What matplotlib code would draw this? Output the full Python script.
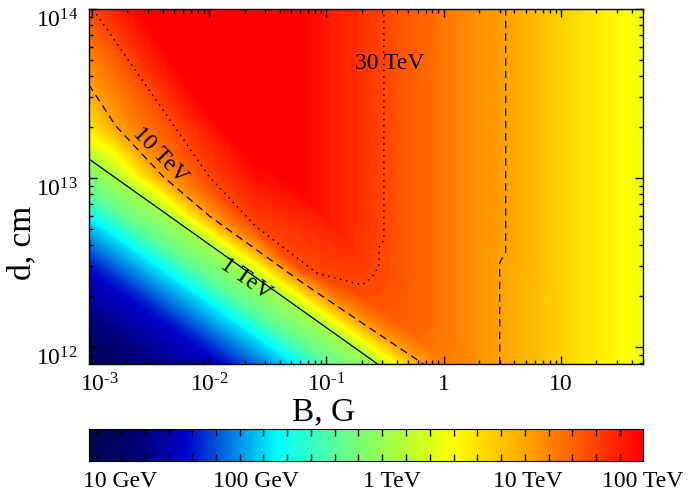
import numpy as np
import matplotlib
matplotlib.use("Agg")
import matplotlib.pyplot as plt
import matplotlib.tri as mtri
from matplotlib.colors import LinearSegmentedColormap, Normalize
from matplotlib.transforms import ScaledTranslation

plt.rcParams['font.family'] = ['Liberation Serif', 'DejaVu Serif']
plt.rcParams['mathtext.fontset'] = 'custom'
plt.rcParams['mathtext.rm'] = 'Liberation Serif'
plt.rcParams['mathtext.it'] = 'Liberation Serif:italic'
plt.rcParams['mathtext.bf'] = 'Liberation Serif:bold'

# points: x = log10(B / G), y = log10(d / cm)
# each set lies on a line of constant log10(E_max / GeV)

# colour bands below 1 TeV
b_e085 = [-3.2, -2.8]
d_e085 = [11.986, 11.789]
b_e150 = [-3.2, -2.8, -2.4, -2.0, -1.6]
d_e150 = [12.556, 12.359, 12.162, 11.965, 11.768]
b_e207 = [-3.2, -2.8, -2.4, -2.0, -1.6, -1.2, -0.8]
d_e207 = [12.836, 12.639, 12.442, 12.245, 12.048, 11.851, 11.654]
b_e260 = [-3.2, -2.8, -2.4, -2.0, -1.6, -1.2, -0.8]
d_e260 = [12.998, 12.801, 12.604, 12.407, 12.210, 12.013, 11.816]

# 1 TeV (solid)
b_1tev = [-3.2, -2.8, -2.4, -2.0, -1.6, -1.2, -0.8, -0.4]
d_1tev = [13.198, 13.001, 12.804, 12.607, 12.410, 12.213, 12.016, 11.819]

# 10 TeV (dashed), sloping part
b_10tev = [-3.2, -3.026, -2.8, -2.4, -2.0, -1.6, -1.2, -0.8, -0.4, 0.0, 0.2]
d_10tev = [13.74, 13.55, 13.31, 13.013, 12.776, 12.577, 12.378, 12.191, 12.005, 11.82, 11.73]

# 30 TeV (dotted), sloping part and bend
b_30tev = [-3.2, -2.957, -2.8, -2.4, -2.0, -1.88, -1.6, -1.222, -1.079, -0.938,
           -0.795, -0.695, -0.609, -0.553, -0.547]
d_30tev = [14.21, 13.964, 13.807, 13.407, 13.007, 12.888, 12.711, 12.475, 12.436, 12.386,
           12.357, 12.367, 12.416, 12.475, 12.593]

# edge of the saturated red area, sloping part
b_red = [-2.8, -2.4, -2.0, -1.6]
d_red = [14.19, 13.79, 13.39, 13.09]

# vertical bands where the energy depends on B only
col_b = [-1.25, -0.85, -0.51, -0.2, 0.1, 0.479, 0.53, 1.0, 1.45, 1.9]
col_e = [4.85, 4.65, 4.477, 4.325, 4.175, 4.0, 4.0, 3.725, 3.5, 3.275]
col_lo = [12.95, 12.65, 12.633, 12.15, 12.05, 11.75, 12.56, 11.75, 11.75, 11.75]
col_hi = [14.15, 14.15, 14.15, 14.15, 14.15, 12.5, 14.15, 14.15, 14.15, 14.15]

# single colour samples
b_spot = [-3.2, -2.4, -2.0, -1.6, -2.0, -1.6, -0.2, 0.1]
d_spot = [11.75, 14.15, 14.15, 14.15, 13.8, 13.55, 12.05, 11.75]
e_spot = [0.58, 5.1, 5.2, 5.0, 5.15, 5.0, 4.28, 4.02]

line_sets = [(b_e085, d_e085, 0.85), (b_e150, d_e150, 1.5), (b_e207, d_e207, 2.07),
             (b_e260, d_e260, 2.6), (b_1tev, d_1tev, 3.0), (b_10tev, d_10tev, 4.0),
             (b_30tev, d_30tev, 4.477), (b_red, d_red, 4.85)]
for b, lo, hi, e in zip(col_b, col_lo, col_hi, col_e):
    n = int(round((hi - lo) / 0.12)) + 1
    line_sets.append((np.full(n, b), np.linspace(lo, hi, n), e))

pts_b = np.concatenate([np.array(b) for b, d, e in line_sets] + [np.array(b_spot)])
pts_d = np.concatenate([np.array(d) for b, d, e in line_sets] + [np.array(d_spot)])
pts_e = np.concatenate([np.full(len(b), e) for b, d, e in line_sets] + [np.array(e_spot)])

# colour bar
cb_ticks = [1.0, 2.0, 3.0, 4.0, 4.846]
cb_labels = ['10 GeV', '100 GeV', '1 TeV', '10 TeV', '100 TeV']
vmin, vmax = 0.772, 4.846

cmap_pos = [0.0, 0.10, 0.17, 0.20, 0.34, 0.46, 0.55, 0.66, 0.80, 1.0]
cmap_rgb = [(0.02, 0.02, 0.30), (0.0, 0.0, 0.50), (0.0, 0.0, 0.78), (0.0, 0.15, 0.82),
            (0.0, 1.0, 1.0), (0.40, 1.0, 0.55), (0.65, 1.0, 0.25), (1.0, 1.0, 0.0),
            (1.0, 0.62, 0.0), (1.0, 0.0, 0.0)]
cmap = LinearSegmentedColormap.from_list('emax', list(zip(cmap_pos, cmap_rgb)))
norm = Normalize(vmin=vmin, vmax=vmax)

fig = plt.figure(figsize=(6.89, 4.95), dpi=100)
ax = fig.add_axes([89/689, 1-364/495, 554/689, 355/495])

# triangulate in a frame sheared along the 1 TeV slope so that points of the
# same line become neighbours, then use those triangles in the plot frame
shear = mtri.Triangulation(pts_b, (pts_d + 0.4923 * pts_b) * 3.0)
tri = mtri.Triangulation(pts_b, pts_d, triangles=shear.triangles)

ax.tricontourf(tri, pts_e, levels=np.linspace(vmin, vmax, 181), cmap=cmap, norm=norm, extend='both')
ax.tricontour(tri, pts_e, levels=[3.0005], colors='k', linewidths=0.9)
ax.tricontour(tri, pts_e, levels=[4.0005], colors='k', linewidths=0.9, linestyles=[(0, (6, 4))])
ax.tricontour(tri, pts_e, levels=[4.4775], colors='k', linewidths=1.1, linestyles=[(0, (1, 3))])

ax.text(-1.692, 12.40, '1 TeV', rotation=-35, ha='center', va='center', fontsize=17, rotation_mode='anchor')
ax.text(-2.419, 13.136, '10 TeV', rotation=-46, ha='center', va='center', fontsize=17, rotation_mode='anchor')
ax.text(-0.462, 13.68, '30 TeV', ha='center', va='center', fontsize=17)

ax.set_xlim(-3.026, 1.70)
ax.set_ylim(11.9, 14.0)

xmaj = [-3, -2, -1, 0, 1]
ax.set_xticks(xmaj)
ax.set_xticklabels([r'$10^{\text{-}3}$', r'$10^{\text{-}2}$', r'$10^{\text{-}1}$', '1', '10'])
ax.set_xticks([n + np.log10(k) for n in range(-4, 2) for k in range(2, 10)
               if -3.026 < n + np.log10(k) < 1.70], minor=True)
ymaj = [12, 13, 14]
ax.set_yticks(ymaj)
ax.set_yticklabels([r'$10^{12}$', r'$10^{13}$', r'$10^{14}$'])
ax.set_yticks([n + np.log10(k) for n in range(11, 14) for k in range(2, 10)
               if 11.9 < n + np.log10(k) < 14.0], minor=True)

ax.tick_params(which='both', direction='in', top=True, right=True, labelsize=17, width=1)
ax.tick_params(which='major', length=6)
ax.tick_params(which='minor', length=3)
ax.tick_params(axis='x', pad=7)
ax.tick_params(axis='y', pad=8)
for lab in ax.get_yticklabels():
    lab.set_va('top')
first = ax.get_xticklabels()[0]
first.set_transform(first.get_transform() + ScaledTranslation(0.07, 0, fig.dpi_scale_trans))
for s in ax.spines.values():
    s.set_linewidth(1.0)

ax.set_xlabel('B, G', fontsize=24)
ax.xaxis.set_label_coords(0.424, -0.093)
ax.set_ylabel('d, cm', fontsize=24)
ax.yaxis.set_label_coords(-0.094, 0.341)

cax = fig.add_axes([89/689, 1-461/495, 554/689, 32/495])
ramp = np.linspace(vmin, vmax, 600).reshape(1, -1)
cax.imshow(ramp, aspect='auto', cmap=cmap, norm=norm, extent=[vmin, vmax, 0, 1])
cax.set_xlim(vmin, vmax)
cax.set_ylim(0, 1)
cax.set_yticks([])
cax.set_xticks(cb_ticks)
cax.set_xticklabels(cb_labels)
cax.set_xticks(vmin + (8 + 23.77*np.arange(23)) / 554 * (vmax - vmin), minor=True)
cax.tick_params(axis='x', which='major', length=0, pad=7, labelsize=17)
cax.tick_params(axis='x', which='minor', direction='in', top=True, bottom=True, length=5, width=1)

fig.savefig('out.png', dpi=100)
